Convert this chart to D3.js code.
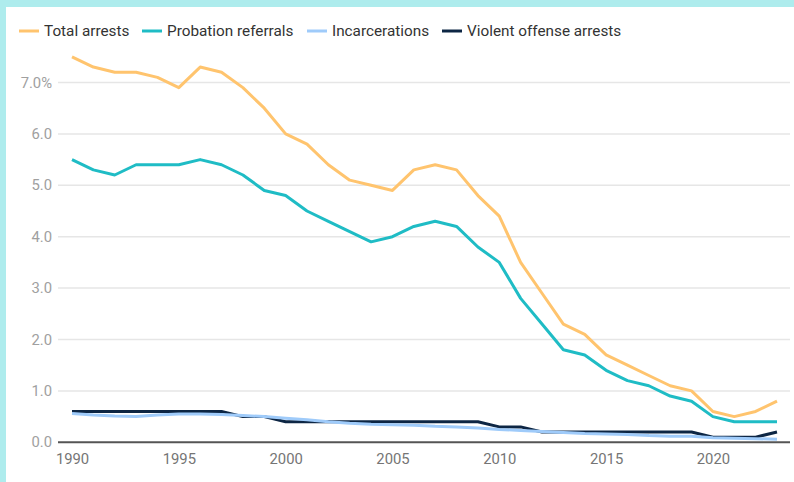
<!DOCTYPE html>
<html>
<head>
<meta charset="utf-8">
<script src="https://cdn.jsdelivr.net/npm/d3@7"></script>
<style>
    html, body { margin: 0; padding: 0; background: #aeeced; }
    #frame { position: absolute; left: 6px; top: 7px; width: 788px; height: 475px; background: #fff; }
    svg { display: block; font-family: Roboto, sans-serif; }
</style>
</head>
<body>
<div id="frame"><svg width="788" height="475"></svg></div>
<script>
var years = d3.range( 1990, 2024 ),
    totalArrests = [
        7.5, 7.3, 7.2, 7.2, 7.1, 6.9, 7.3, 7.2, 6.9, 6.5,
        6.0, 5.8, 5.4, 5.1, 5.0, 4.9, 5.3, 5.4, 5.3, 4.8,
        4.4, 3.5, 2.9, 2.3, 2.1, 1.7, 1.5, 1.3, 1.1, 1.0,
        0.6, 0.5, 0.6, 0.8
    ],
    probationReferrals = [
        5.5, 5.3, 5.2, 5.4, 5.4, 5.4, 5.5, 5.4, 5.2, 4.9,
        4.8, 4.5, 4.3, 4.1, 3.9, 4.0, 4.2, 4.3, 4.2, 3.8,
        3.5, 2.8, 2.3, 1.8, 1.7, 1.4, 1.2, 1.1, 0.9, 0.8,
        0.5, 0.4, 0.4, 0.4
    ],
    incarcerations = [
        0.56, 0.53, 0.51, 0.50, 0.53, 0.55, 0.55, 0.54, 0.52, 0.50,
        0.47, 0.44, 0.40, 0.37, 0.35, 0.34, 0.33, 0.31, 0.30, 0.28,
        0.25, 0.23, 0.21, 0.19, 0.17, 0.16, 0.15, 0.13, 0.12, 0.12,
        0.09, 0.08, 0.07, 0.06
    ],
    violentArrests = [
        0.6, 0.6, 0.6, 0.6, 0.6, 0.6, 0.6, 0.6, 0.5, 0.5,
        0.4, 0.4, 0.4, 0.4, 0.4, 0.4, 0.4, 0.4, 0.4, 0.4,
        0.3, 0.3, 0.2, 0.2, 0.2, 0.2, 0.2, 0.2, 0.2, 0.2,
        0.1, 0.1, 0.1, 0.2
    ],
    yTicks = [ 0, 1, 2, 3, 4, 5, 6, 7 ],
    xTicks = [ 1990, 1995, 2000, 2005, 2010, 2015, 2020 ],
    series = [
        { name: 'Total arrests',           values: totalArrests,       color: '#ffc46e' },
        { name: 'Probation referrals',     values: probationReferrals, color: '#1fbcc5' },
        { name: 'Incarcerations',          values: incarcerations,     color: '#9fcbfa' },
        { name: 'Violent offense arrests', values: violentArrests,     color: '#0d2644' }
    ];

var svg = d3.select( 'svg' ),
    // frame is offset by (6,7) in the page
    x = d3.scaleLinear().domain( [ 1990, 2023 ] ).range( [ 66, 771 ] ),
    y = d3.scaleLinear().domain( [ 0, 7 ] ).range( [ 435.3, 75.5 ] ),
    axisLeft = 52,
    axisRight = 784;

// gridlines
svg.append( 'g' )
    .selectAll( 'line' )
    .data( yTicks.filter( function ( d ) { return d > 0; } ) )
    .enter().append( 'line' )
    .attr( 'x1', axisLeft )
    .attr( 'x2', axisRight )
    .attr( 'y1', function ( d ) { return y( d ); } )
    .attr( 'y2', function ( d ) { return y( d ); } )
    .attr( 'stroke', '#e6e6e6' )
    .attr( 'stroke-width', 1.5 );

// y labels
svg.append( 'g' )
    .selectAll( 'text' )
    .data( yTicks )
    .enter().append( 'text' )
    .attr( 'x', 46 )
    .attr( 'y', function ( d ) { return y( d ); } )
    .attr( 'dy', '0.35em' )
    .attr( 'text-anchor', 'end' )
    .attr( 'fill', '#a0a0a0' )
    .style( 'font-size', '14.8px' )
    .text( function ( d ) { return d === 7 ? '7.0%' : d.toFixed( 1 ); } );

// x axis
var xAxis = svg.append( 'g' )
    .attr( 'transform', 'translate(0,' + y( 0 ) + ')' )
    .call( d3.axisBottom( x ).tickValues( xTicks ).tickFormat( d3.format( 'd' ) ).tickSize( 0 ).tickPadding( 11 ) );

xAxis.select( '.domain' ).remove();
xAxis.selectAll( 'text' )
    .attr( 'fill', '#757575' )
    .style( 'font-size', '14.8px' )
    .style( 'font-family', 'Roboto, sans-serif' );

// lines
var line = d3.line()
    .x( function ( d, i ) { return x( years[ i ] ); } )
    .y( function ( d ) { return y( d ); } );

svg.append( 'g' )
    .selectAll( 'path' )
    .data( series.slice().reverse() )
    .enter().append( 'path' )
    .attr( 'fill', 'none' )
    .attr( 'stroke', function ( d ) { return d.color; } )
    .attr( 'stroke-width', 3 )
    .attr( 'stroke-linejoin', 'round' )
    .attr( 'd', function ( d ) { return line( d.values ); } );

// baseline
svg.append( 'line' )
    .attr( 'x1', axisLeft )
    .attr( 'x2', axisRight )
    .attr( 'y1', y( 0 ) )
    .attr( 'y2', y( 0 ) )
    .attr( 'stroke', '#555' )
    .attr( 'stroke-width', 2 );

// legend
var legendX = [ 13, 136, 301, 436 ],
    legend = svg.append( 'g' )
        .selectAll( 'g' )
        .data( series )
        .enter().append( 'g' )
        .attr( 'transform', function ( d, i ) { return 'translate(' + legendX[ i ] + ',24)'; } );

legend.append( 'line' )
    .attr( 'x1', 0 )
    .attr( 'x2', 20 )
    .attr( 'stroke', function ( d ) { return d.color; } )
    .attr( 'stroke-width', 3 );

legend.append( 'text' )
    .attr( 'x', 25 )
    .attr( 'dy', '0.35em' )
    .attr( 'fill', '#333' )
    .style( 'font-size', '15.3px' )
    .text( function ( d ) { return d.name; } );
</script>
</body>
</html>
